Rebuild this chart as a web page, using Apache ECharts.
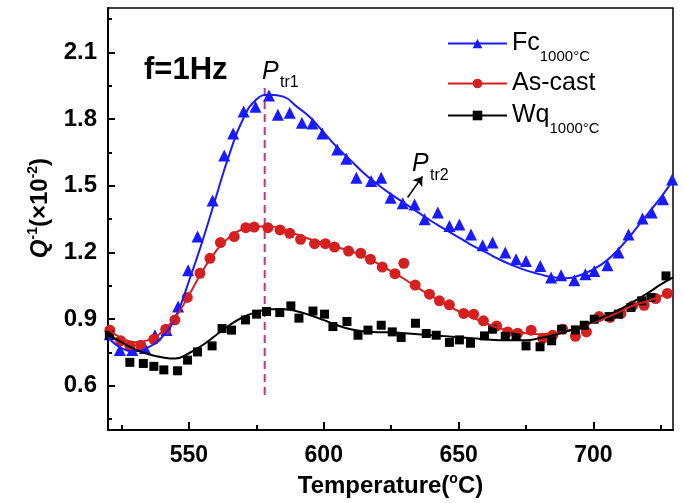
<!DOCTYPE html>
<html>
<head>
<meta charset="utf-8">
<script src="https://cdn.jsdelivr.net/npm/echarts@6/dist/echarts.min.js"></script>
<style>body{margin:0;background:#fff}</style>
</head>
<body>
<div id="main" style="width:683px;height:503px"></div>
<script>
// measured points, temperature (°C) and Q^-1 (x10^-2)
var fcT = [520.7,524.4,529.0,533.7,537.4,541.7,546.0,549.7,553.2,558.8,563.1,566.4,570.3,574.7,579.7,583.0,587.4,591.9,595.8,599.5,605.0,608.4,612.1,617.6,621.3,624.8,629.3,633.7,637.4,642.3,646.6,650.3,654.6,658.9,662.6,667.3,671.3,675.0,680.3,684.3,688.0,692.9,697.0,700.3,705.2,709.3,713.0,718.2,721.6,725.8,729.2]
var fcQ = [0.832,0.761,0.761,0.769,0.827,0.851,0.956,1.119,1.271,1.434,1.636,1.735,1.834,1.855,1.906,1.820,1.828,1.783,1.780,1.735,1.663,1.621,1.536,1.521,1.536,1.446,1.421,1.416,1.349,1.379,1.319,1.326,1.281,1.232,1.244,1.199,1.169,1.161,1.139,1.087,1.097,1.075,1.101,1.116,1.142,1.199,1.281,1.352,1.379,1.439,1.528]

var castT = [520.7,524.7,528.1,532.1,537.0,541.4,544.8,549.4,554.1,557.8,561.7,566.8,571.1,574.2,579.3,583.8,587.4,591.4,596.6,600.6,604.0,609.2,613.7,617.3,621.7,626.4,629.7,633.9,639.2,642.9,646.6,651.9,655.6,659.2,664.1,668.2,671.9,676.9,681.2,684.9,688.6,693.3,697.4,702.1,706.2,710.2,714.5,718.8,723.1,727.4]
var castQ = [0.850,0.802,0.779,0.782,0.809,0.854,0.896,0.997,1.106,1.173,1.244,1.271,1.311,1.314,1.311,1.301,1.286,1.259,1.239,1.239,1.224,1.206,1.196,1.169,1.134,1.104,1.151,1.053,1.012,0.982,0.964,0.925,0.922,0.892,0.869,0.842,0.836,0.850,0.813,0.827,0.854,0.822,0.842,0.911,0.907,0.925,0.959,0.962,0.992,1.015]

var wqT = [520.5,528.1,533.1,537.0,540.7,545.8,549.5,553.2,558.6,562.3,565.8,571.0,575.1,578.8,583.7,587.8,590.8,596.0,600.3,603.4,608.6,612.7,616.4,621.3,625.4,628.7,634.0,638.0,641.7,646.6,650.3,654.4,659.6,662.6,667.3,671.3,675.0,680.2,684.5,688.2,693.3,696.6,700.3,705.8,709.3,713.9,717.9,721.3,726.9]
var wqQ = [0.827,0.705,0.700,0.687,0.671,0.667,0.715,0.752,0.779,0.857,0.850,0.896,0.922,0.934,0.929,0.959,0.904,0.936,0.922,0.866,0.889,0.827,0.850,0.872,0.842,0.817,0.881,0.835,0.827,0.795,0.806,0.791,0.824,0.854,0.822,0.822,0.779,0.775,0.802,0.854,0.851,0.872,0.899,0.911,0.922,0.952,0.982,0.997,1.094]

// fitted curves
var fitT = [520,525,530,535,540,545,550,555,560,565,570,575,580,585,590,595,600,605,610,615,620,625,630,635,640,645,650,655,660,665,670,675,680,685,690,695,700,705,710,715,720,725,729.5]
var fcFit = [0.818,0.769,0.755,0.773,0.818,0.908,1.070,1.250,1.447,1.641,1.798,1.888,1.910,1.901,1.856,1.807,1.740,1.672,1.614,1.555,1.506,1.461,1.421,1.380,1.340,1.304,1.268,1.232,1.201,1.169,1.142,1.119,1.102,1.088,1.084,1.097,1.124,1.164,1.223,1.295,1.371,1.448,1.524]
var castFit = [0.854,0.814,0.796,0.805,0.841,0.908,1.007,1.115,1.205,1.268,1.304,1.317,1.317,1.304,1.281,1.259,1.241,1.223,1.205,1.182,1.151,1.115,1.079,1.039,1.003,0.967,0.935,0.908,0.881,0.859,0.845,0.836,0.832,0.836,0.845,0.863,0.886,0.908,0.935,0.962,0.980,1.003,1.025]
var wqFit = [0.832,0.796,0.764,0.742,0.728,0.722,0.746,0.782,0.827,0.872,0.908,0.931,0.944,0.944,0.935,0.917,0.895,0.872,0.854,0.845,0.841,0.841,0.836,0.832,0.827,0.823,0.818,0.814,0.809,0.805,0.805,0.805,0.814,0.827,0.845,0.863,0.890,0.917,0.944,0.980,1.016,1.056,1.088]

var xLabels = [550, 600, 650, 700]
var xMinor = [525, 575, 625, 675, 725]
var yLabels = [0.6, 0.9, 1.2, 1.5, 1.8, 2.1]
var yMinor = [0.45, 0.75, 1.05, 1.35, 1.65, 1.95, 2.25]

var ptr1T = 578.1
var ptr1Q = [1.94, 0.55]
var ptr2Arrow = [[631.1, 1.447], [636.6, 1.542]]

var FONT = '"Liberation Sans", Arial, sans-serif'
var BLUE = '#1a1aff', RED = '#d42020', BLACK = '#000'

function pairs(xs, ys) {
  return xs.map(function (x, i) { return [x, ys[i]] })
}

var chart = echarts.init(document.getElementById('main'))

var option = {
  animation: false,
  textStyle: { fontFamily: FONT },
  grid: {
    left: 108, right: 10, top: 8, bottom: 72,
    show: true, borderColor: '#000', borderWidth: 1.5
  },
  legend: {
    orient: 'vertical',
    left: 447, top: 31, padding: 0,
    itemWidth: 59, itemHeight: 12, itemGap: 7,
    data: ['Fc', 'As-cast', 'Wq'],
    textStyle: {
      fontFamily: FONT, fontSize: 25, color: '#000',
      rich: {
        m: { fontFamily: FONT, fontSize: 25, color: '#000' },
        s: { fontFamily: FONT, fontSize: 15, color: '#000', padding: [26, 0, 0, 0] }
      }
    },
    formatter: function (name) {
      if (name === 'As-cast') return '{m|As-cast}'
      return '{m|' + name + '}{s|1000°C}'
    }
  },
  xAxis: [{
    type: 'value', min: 520, max: 729.5,
    name: '{n|Temperature(}{p|o}{n|C)}',
    nameLocation: 'middle', nameGap: 40,
    nameTextStyle: {
      rich: {
        n: { fontFamily: FONT, fontSize: 24, fontWeight: 'bold', color: '#000' },
        p: { fontFamily: FONT, fontSize: 14, fontWeight: 'bold', color: '#000', padding: [0, 0, 14, 0] }
      }
    },
    axisLine: { lineStyle: { color: '#000', width: 2 } },
    axisTick: { inside: true, length: 8, customValues: xLabels, lineStyle: { width: 2, color: '#000' } },
    axisLabel: { customValues: xLabels, margin: 14, fontSize: 23, fontWeight: 'bold', color: '#000', fontFamily: FONT },
    splitLine: { show: false }
  }, {
    type: 'value', min: 520, max: 729.5, position: 'bottom',
    axisLine: { show: false },
    axisTick: { inside: true, length: 5, customValues: xMinor, lineStyle: { width: 2, color: '#000' } },
    axisLabel: { show: false },
    splitLine: { show: false }
  }],
  yAxis: [{
    type: 'value', min: 0.4, max: 2.3,
    name: '{i|Q}{p|-1}{n|(×10}{p|-2}{n|)}',
    nameLocation: 'middle', nameGap: 54,
    nameTextStyle: {
      padding: [0, 0, 0, 22],
      rich: {
        i: { fontFamily: FONT, fontSize: 24, fontWeight: 'bold', fontStyle: 'italic', color: '#000' },
        n: { fontFamily: FONT, fontSize: 24, fontWeight: 'bold', color: '#000' },
        p: { fontFamily: FONT, fontSize: 14, fontWeight: 'bold', color: '#000', padding: [0, 0, 14, 0] }
      }
    },
    axisLine: { show: true, lineStyle: { color: '#000', width: 2 } },
    axisTick: { show: true, inside: true, length: 7, customValues: yLabels, lineStyle: { width: 2, color: '#000' } },
    axisLabel: {
      customValues: yLabels, margin: 11, fontSize: 24, fontWeight: 'bold', color: '#000', fontFamily: FONT,
      formatter: function (v) { return v.toFixed(1) }
    },
    splitLine: { show: false }
  }, {
    type: 'value', min: 0.4, max: 2.3, position: 'left',
    axisLine: { show: false },
    axisTick: { show: true, inside: true, length: 4, customValues: yMinor, lineStyle: { width: 2, color: '#000' } },
    axisLabel: { show: false },
    splitLine: { show: false }
  }],
  series: [
    {
      name: 'Ptr1', type: 'line', data: [[ptr1T, ptr1Q[0]], [ptr1T, ptr1Q[1]]],
      showSymbol: false, symbol: 'none', z: 1,
      lineStyle: { color: '#c8327f', width: 2, type: [8, 5] }
    },
    {
      name: 'Fc', type: 'line', data: pairs(fitT, fcFit), smooth: true,
      showSymbol: false, symbol: 'triangle', symbolSize: 12,
      itemStyle: { color: BLUE }, lineStyle: { color: BLUE, width: 2 }
    },
    {
      name: 'As-cast', type: 'line', data: pairs(fitT, castFit), smooth: true,
      showSymbol: false, symbol: 'circle', symbolSize: 11,
      itemStyle: { color: RED }, lineStyle: { color: RED, width: 2 }
    },
    {
      name: 'Wq', type: 'line', data: pairs(fitT, wqFit), smooth: true,
      showSymbol: false, symbol: 'rect', symbolSize: 9,
      itemStyle: { color: BLACK }, lineStyle: { color: BLACK, width: 2 }
    },
    {
      name: 'Fc data', type: 'scatter', data: pairs(fcT, fcQ),
      symbol: 'triangle', symbolSize: 12, itemStyle: { color: BLUE, opacity: 1 }
    },
    {
      name: 'As-cast data', type: 'scatter', data: pairs(castT, castQ),
      symbol: 'circle', symbolSize: 11, itemStyle: { color: RED, opacity: 1 }
    },
    {
      name: 'Wq data', type: 'scatter', data: pairs(wqT, wqQ),
      symbol: 'rect', symbolSize: 9, itemStyle: { color: BLACK, opacity: 1 }
    },
    {
      name: 'Ptr2 arrow', type: 'lines', coordinateSystem: 'cartesian2d',
      symbol: ['none', 'arrow'], symbolSize: 9,
      lineStyle: { color: '#000', width: 1.5, opacity: 1 },
      data: [{ coords: ptr2Arrow }]
    }
  ],
  graphic: [
    { type: 'text', left: 144, top: 55, style: { text: 'f=1Hz', font: 'bold 31px ' + FONT, fill: '#000' } },
    { type: 'text', left: 262, top: 60, style: { text: 'P', font: 'italic 25px ' + FONT, fill: '#000' } },
    { type: 'text', left: 280, top: 75, style: { text: 'tr1', font: '16px ' + FONT, fill: '#000' } },
    { type: 'text', left: 412, top: 152, style: { text: 'P', font: 'italic 25px ' + FONT, fill: '#000' } },
    { type: 'text', left: 430, top: 168, style: { text: 'tr2', font: '16px ' + FONT, fill: '#000' } }
  ]
}

chart.setOption(option)
</script>
</body>
</html>
